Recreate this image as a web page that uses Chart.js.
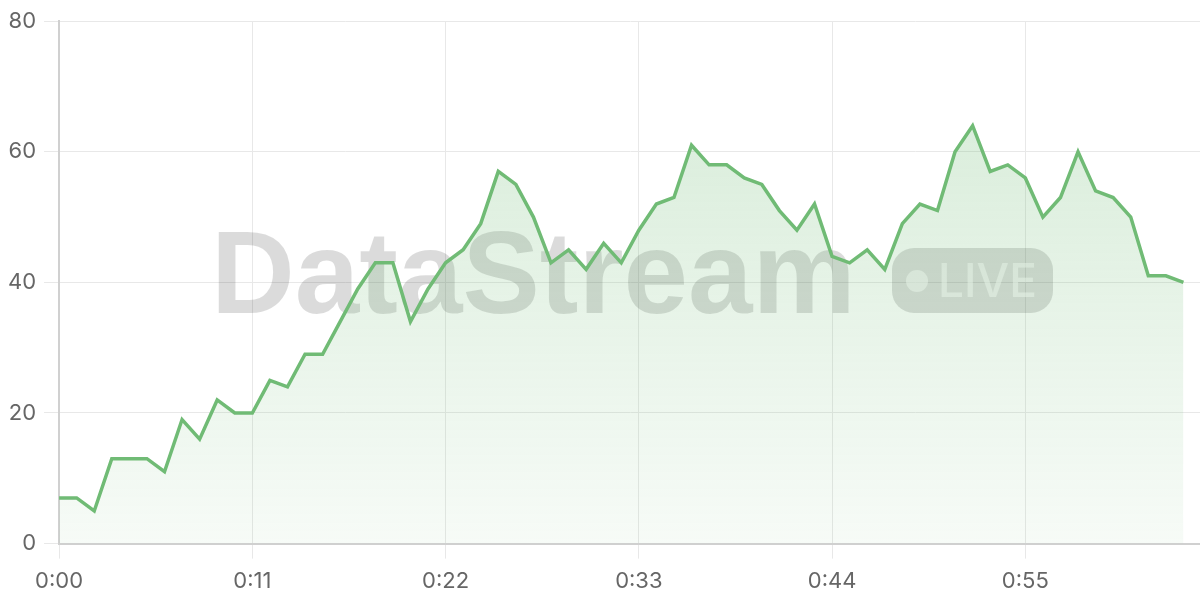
<!DOCTYPE html>
<html>
<head>
<meta charset="utf-8">
<script src="https://cdn.jsdelivr.net/npm/chart.js"></script>
<style>
  html, body { margin: 0; padding: 0; background: #fff; overflow: hidden; }
  #wrap { width: 1211px; height: 600px; }
</style>
</head>
<body>
<div id="wrap"><canvas id="stream_chart"></canvas></div>
<script>
// 시간 라벨 (0:00 ~ 1:05)
const timeLabels = [];
for (let s = 0; s <= 65; s++) {
    timeLabels.push(Math.floor(s / 60) + ':' + String(s % 60).padStart(2, '0'));
}

const streamValues = [
    7, 7, 5, 13, 13, 13, 11, 19, 16, 22,
    20, 20, 25, 24, 29, 29, 34, 39, 43, 43,
    34, 39, 43, 45, 49, 57, 55, 50, 43, 45,
    42, 46, 43, 48, 52, 53, 61, 58, 58, 56,
    55, 51, 48, 52, 44, 43, 45, 42, 49, 52,
    51, 60, 64, 57, 58, 56, 50, 53, 60, 54,
    53, 50, 41, 41, 40
];

const yTicks = [0, 20, 40, 60, 80];
const labelStep = 11;

const lineColor = 'rgb(112, 187, 117)';

// 라벨이 있는 눈금인지
function isLabelTick(index) {
    return index % labelStep === 0 && index < 65;
}

// 워터마크 플러그인
const watermark = {
    id: 'watermark',
    beforeDatasetsDraw(chart) {
        const ctx = chart.ctx;
        ctx.save();
        ctx.fillStyle = 'rgba(0, 0, 0, 0.14)';
        ctx.font = 'bold 116px "Liberation Sans", Arial, sans-serif';
        ctx.textBaseline = 'alphabetic';
        ctx.textAlign = 'left';
        ctx.fillText('DataStream', 211, 313);

        // LIVE 뱃지
        const px = 892, py = 248, pw = 161, ph = 65, r = 22;
        ctx.beginPath();
        ctx.roundRect(px, py, pw, ph, r);
        ctx.fill();

        ctx.fillStyle = 'rgba(255, 255, 255, 0.55)';
        ctx.beginPath();
        ctx.arc(917, 281, 11, 0, Math.PI * 2);
        ctx.fill();

        ctx.font = '500 46px Inter, "Liberation Sans", sans-serif';
        ctx.fillText('LIVE', 938, 297);
        ctx.restore();
    }
};

const ctx = document.getElementById('stream_chart').getContext('2d');

new Chart(ctx, {
    type: 'line',
    data: {
        labels: timeLabels,
        datasets: [{
            data: streamValues,
            borderColor: lineColor,
            borderWidth: 3.5,
            pointRadius: 0,
            tension: 0,
            fill: 'origin',
            backgroundColor: function(context) {
                const area = context.chart.chartArea;
                if (!area) return 'rgba(112,187,117,0.15)';
                const g = context.chart.ctx.createLinearGradient(0, area.top, 0, area.bottom);
                g.addColorStop(0, 'rgba(112, 187, 117, 0.30)');
                g.addColorStop(1, 'rgba(112, 187, 117, 0.06)');
                return g;
            }
        }]
    },
    options: {
        responsive: true,
        maintainAspectRatio: false,
        animation: false,
        layout: {
            padding: { top: 10, right: 0, bottom: -5, left: 0 }
        },
        plugins: {
            legend: { display: false },
            tooltip: { enabled: false }
        },
        scales: {
            x: {
                offset: false,
                grid: {
                    color: function(c) {
                        return isLabelTick(c.index) ? '#e8e8e8' : 'rgba(0,0,0,0)';
                    },
                    tickLength: 15,
                    lineWidth: 1
                },
                border: { color: '#d0d0d0', width: 2 },
                ticks: {
                    autoSkip: false,
                    maxRotation: 0,
                    padding: 10,
                    color: '#666',
                    font: { family: 'Inter, sans-serif', size: 22 },
                    callback: function(value, index) {
                        return isLabelTick(index) ? timeLabels[index] : '';
                    }
                }
            },
            y: {
                min: yTicks[0],
                max: yTicks[yTicks.length - 1],
                afterBuildTicks: function(axis) {
                    axis.ticks = yTicks.map(v => ({ value: v }));
                },
                grid: {
                    color: '#e8e8e8',
                    tickLength: 15,
                    lineWidth: 1
                },
                border: { color: '#d0d0d0', width: 2 },
                ticks: {
                    padding: 8,
                    color: '#666',
                    font: { family: 'Inter, sans-serif', size: 22 }
                }
            }
        }
    },
    plugins: [watermark]
});
</script>
</body>
</html>
